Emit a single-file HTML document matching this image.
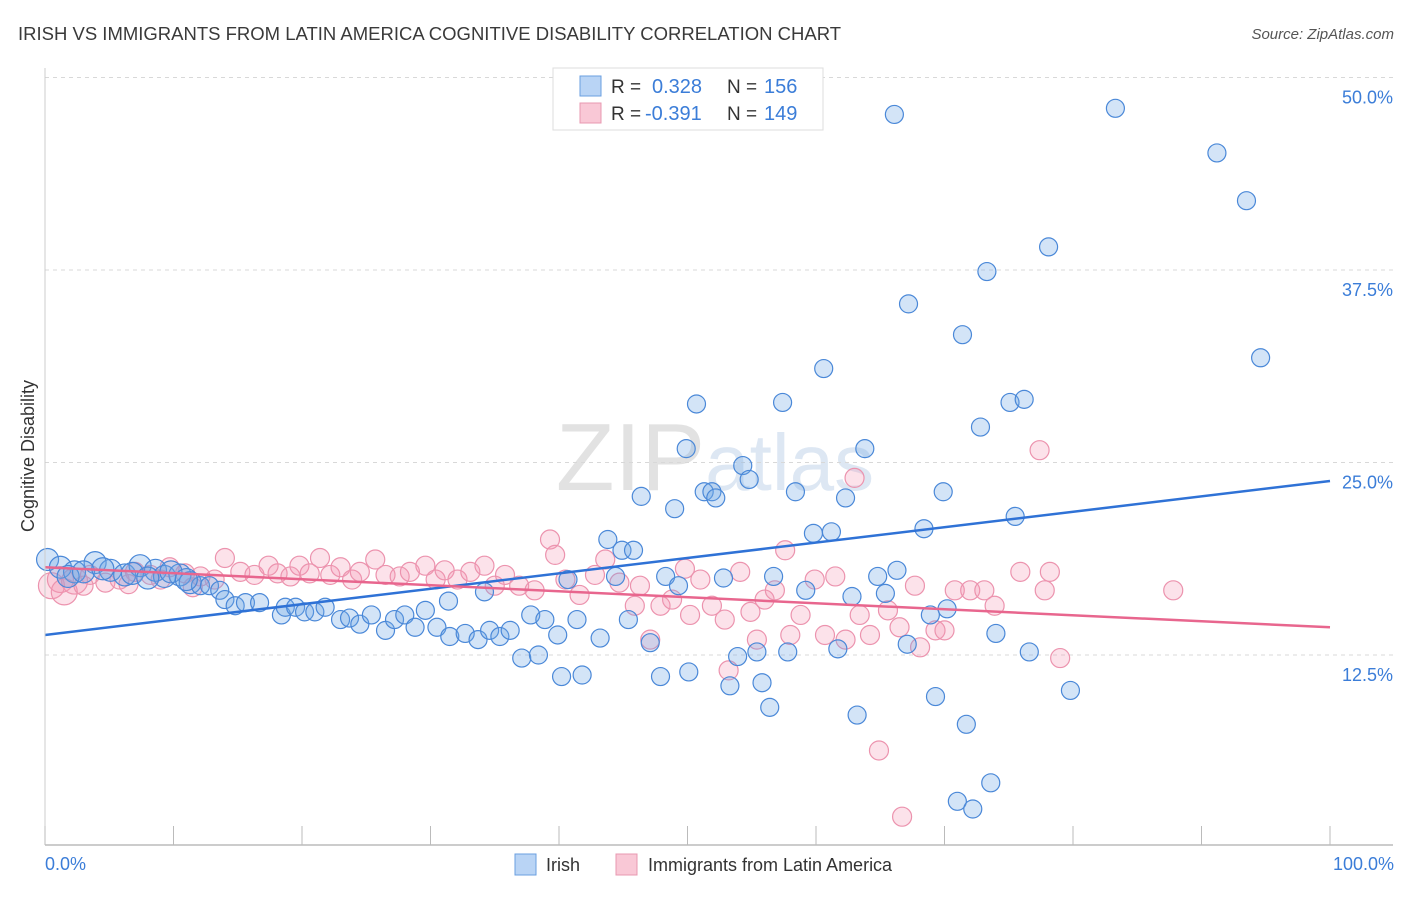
<!DOCTYPE html>
<html><head><meta charset="utf-8">
<style>
body{margin:0;background:#fff;font-family:"Liberation Sans",sans-serif;}
svg text{font-family:"Liberation Sans",sans-serif;}
</style></head>
<body>
<svg id="chart" width="1406" height="892" xmlns="http://www.w3.org/2000/svg">
<text x="18" y="40" font-size="18.5" fill="#3a3a3a">IRISH VS IMMIGRANTS FROM LATIN AMERICA COGNITIVE DISABILITY CORRELATION CHART</text>
<text x="1394" y="39" font-size="15" fill="#555" text-anchor="end" font-style="italic">Source: ZipAtlas.com</text>
<text x="715" y="490" font-size="96" fill="#e4e4e4" text-anchor="middle" font-family="Liberation Serif"><tspan fill="#e2e2e2">ZIP</tspan><tspan fill="#dde7f3" font-family="Liberation Sans" font-size="80">atlas</tspan></text>
<g id="grid"></g>
<g id="pink"></g>
<g id="blue"></g>
<g id="lines"></g>
<g id="axes"></g>
<text transform="translate(34,456) rotate(-90)" font-size="18" fill="#333" text-anchor="middle">Cognitive Disability</text>
<text x="45" y="870" font-size="18" fill="#3b7dd8">0.0%</text>
<text x="1394" y="870" font-size="18" fill="#3b7dd8" text-anchor="end">100.0%</text>
<g>
<rect x="515" y="854" width="21" height="21" fill="#b9d4f5" stroke="#6a9fe0"/>
<text x="546" y="871" font-size="18" fill="#333">Irish</text>
<rect x="616" y="854" width="21" height="21" fill="#f9c8d6" stroke="#e898b0"/>
<text x="648" y="871" font-size="18" fill="#333">Immigrants from Latin America</text>
</g>
<g>
<rect x="553" y="68" width="270" height="62" fill="#fff" stroke="#ddd"/>
<rect x="580" y="76" width="21" height="20" fill="#b9d4f5" stroke="#6a9fe0"/>
<text x="611" y="93" font-size="19" fill="#333">R =</text>
<text x="652" y="93" font-size="20" fill="#3b7dd8">0.328</text>
<text x="727" y="93" font-size="19" fill="#333">N =</text>
<text x="764" y="93" font-size="20" fill="#3b7dd8">156</text>
<rect x="580" y="103" width="21" height="20" fill="#f9c8d6" stroke="#e898b0"/>
<text x="611" y="120" font-size="19" fill="#333">R =</text>
<text x="645" y="120" font-size="20" fill="#3b7dd8">-0.391</text>
<text x="727" y="120" font-size="19" fill="#333">N =</text>
<text x="764" y="120" font-size="20" fill="#3b7dd8">149</text>
</g>
</svg>
<script>
const yTicks=[12.5,25,37.5,50];
const yTickLabels=["12.5%","25.0%","37.5%","50.0%"];
const xTicks=[0,10,20,30,40,50,60,70,80,90,100];
const blueX=[66.1,83.3,91.2,93.5,78.1,73.3,67.2,71.4,94.6,60.6,50.7,57.4,75.1,76.2,72.8,49.9,63.8,54.3,54.8,46.4,51.3,51.9,52.2,58.4,62.3,69.9,49.0,68.4,75.5,59.8,61.2,43.8,44.9,45.8,48.3,49.3,52.8,56.7,44.4,40.7,59.2,64.8,66.3,65.4,62.8,34.2,31.4,70.2,68.9,41.4,45.4,37.8,43.2,47.1,74.0,61.7,67.1,53.9,55.4,57.8,76.6,37.1,38.4,40.2,41.8,47.9,50.1,53.3,55.8,79.8,69.3,56.4,63.2,71.7,73.6,71.0,72.2,
0.2,1.2,2.3,3.9,5.1,6.2,7.4,8.6,9.3,10.5,11.3,12.1,12.8,13.6,14.0,14.8,15.6,16.7,18.4,18.7,19.5,20.2,21.0,21.8,23.0,23.7,24.5,25.4,26.5,27.2,28.0,28.8,29.6,30.5,31.5,32.7,33.7,34.6,35.4,36.2,38.9,39.9,1.8,3.0,4.5,6.8,8.0,9.8,11.0];
const blueY=[47.6,48.0,45.1,42.0,39.0,37.4,35.3,33.3,31.8,31.1,28.8,28.9,28.9,29.1,27.3,25.9,25.9,24.8,23.9,22.8,23.1,23.1,22.7,23.1,22.7,23.1,22.0,20.7,21.5,20.4,20.5,20.0,19.3,19.3,17.6,17.0,17.5,17.6,17.6,17.4,16.7,17.6,18.0,16.5,16.3,16.6,16.0,15.5,15.1,14.8,14.8,15.1,13.6,13.3,13.9,12.9,13.2,12.4,12.7,12.7,12.7,12.3,12.5,11.1,11.2,11.1,11.4,10.5,10.7,10.2,9.8,9.1,8.6,8.0,4.2,3.0,2.5,
18.7,18.2,17.9,18.5,18.0,17.7,18.3,18.0,17.6,17.7,17.2,17.0,17.0,16.7,16.1,15.7,15.9,15.9,15.1,15.6,15.6,15.3,15.3,15.6,14.8,14.9,14.5,15.1,14.1,14.8,15.1,14.3,15.4,14.3,13.7,13.9,13.5,14.1,13.7,14.1,14.8,13.8,17.6,17.9,18.1,17.8,17.5,17.9,17.4];
const pinkX=[0.5,1.2,2.3,3.5,4.7,5.8,7.0,8.2,9.7,10.9,12.1,13.2,14.0,15.2,16.3,17.4,18.1,19.1,19.8,20.6,21.4,22.2,23.0,23.9,24.5,25.7,26.5,27.6,28.4,29.6,30.4,31.1,32.1,33.1,34.2,35.0,35.8,36.9,38.1,39.3,39.7,40.5,41.6,42.8,43.6,44.7,45.9,46.3,47.1,47.9,48.8,49.8,50.2,51.0,51.9,52.9,53.2,54.1,54.9,55.4,56.0,56.8,57.6,58.0,58.8,59.9,60.7,61.5,62.3,63.0,63.4,64.2,64.9,65.6,66.5,66.7,67.7,68.1,69.3,70.0,70.8,72.0,73.1,73.9,75.9,77.4,77.8,78.2,79.0,87.8,1.5,3.0,6.5,9.0,11.5];
const pinkY=[17.0,17.4,17.3,17.7,17.2,17.4,17.9,17.7,18.2,17.8,17.6,17.4,18.8,17.9,17.7,18.3,17.8,17.6,18.3,17.8,18.8,17.7,18.2,17.4,17.9,18.7,17.7,17.6,17.9,18.3,17.4,18.0,17.4,17.9,18.3,17.0,17.7,17.0,16.7,20.0,19.0,17.4,16.4,17.7,18.7,17.2,15.7,17.0,13.5,15.7,16.1,18.1,15.1,17.4,15.7,14.8,11.5,17.9,15.3,13.5,16.1,16.7,19.3,13.8,15.1,17.4,13.8,17.6,13.5,24.0,15.1,13.8,6.3,15.4,14.3,2.0,17.0,13.0,14.1,14.1,16.7,16.7,16.7,15.7,17.9,25.8,16.7,17.9,12.3,16.7,16.6,17.0,17.1,17.4,16.9];
const blueTrend=[13.8,23.8];
const pinkTrend=[18.2,14.3];
const NS="http://www.w3.org/2000/svg";
const X0=45,X1=1330,Y0=847.5,PX=15.4;
function xs(v){return X0+(X1-X0)*v/100;}
function ys(v){return Y0-v*PX;}
function mk(t,a,parent){const e=document.createElementNS(NS,t);for(const k in a)e.setAttribute(k,a[k]);parent.appendChild(e);return e;}
const grid=document.getElementById('grid');
yTicks.forEach((t,i)=>{
  const l=mk('line',{x1:45,x2:1393,y1:ys(t),y2:ys(t),stroke:'#d8d8d8','stroke-dasharray':'4,4'},grid);
  
  
  const tx=mk('text',{x:1393,y:ys(t)+26,'font-size':18,fill:'#3b7dd8','text-anchor':'end'},grid);
  tx.textContent=yTickLabels[i];
  
  
});
const axes=document.getElementById('axes');
const ax=mk('line',{x1:45,x2:1393,y1:845,y2:845,stroke:'#bbb','stroke-width':1.5},axes);


const ay=mk('line',{x1:45,x2:45,y1:68,y2:845,stroke:'#ccc'},axes);


xTicks.forEach(t=>{
  const l=mk('line',{x1:xs(t),x2:xs(t),y1:826,y2:845,stroke:'#bbb'},axes);
  
  
});
const pg=document.getElementById('pink');
pinkX.forEach((x,i)=>{
  const r=x<3?13:9.5;
  const c=mk('circle',{cx:xs(x),cy:ys(pinkY[i]),r:r,fill:'rgba(244,150,180,0.28)',stroke:'#ec93ae','stroke-width':1.2},pg);
  
  
});
const bg=document.getElementById('blue');
blueX.forEach((x,i)=>{
  const r=x<12?11:9;
  const c=mk('circle',{cx:xs(x),cy:ys(blueY[i]),r:r,fill:'rgba(110,165,230,0.3)',stroke:'#4a88d8','stroke-width':1.2},bg);
  
  
});
const lg=document.getElementById('lines');
const bl=mk('line',{x1:xs(0),y1:ys(blueTrend[0]),x2:xs(100),y2:ys(blueTrend[1]),stroke:'#2f72d6','stroke-width':2.5},lg);


const pl=mk('line',{x1:xs(0),y1:ys(pinkTrend[0]),x2:xs(100),y2:ys(pinkTrend[1]),stroke:'#e8668e','stroke-width':2.5},lg);


</script>
</body></html>
